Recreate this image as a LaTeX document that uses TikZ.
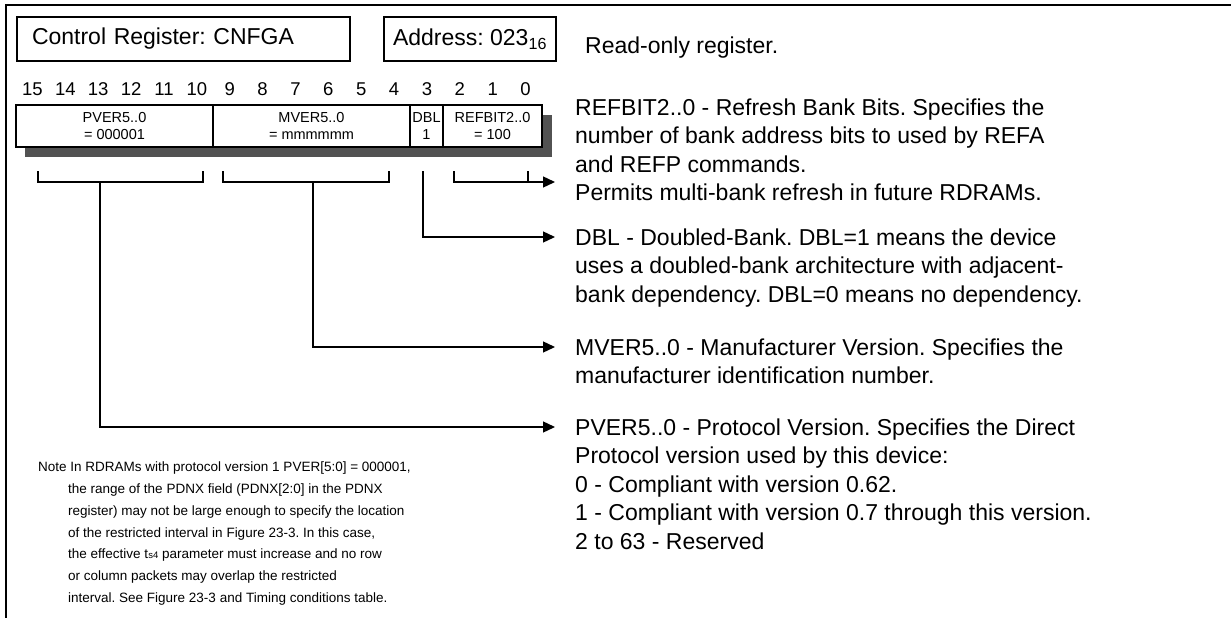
\documentclass[tikz,border=0pt]{standalone}
\usepackage{fontspec}
\setmainfont{Liberation Sans}
\frenchspacing
\usetikzlibrary{positioning,arrows.meta}
\tikzset{
  ttl/.style={rectangle, draw=black, line width=1.3pt, minimum height=44pt, inner ysep=0pt, outer sep=0pt, font=\fontsize{23}{27}\selectfont},
  fld/.style={rectangle, draw=black, line width=1.1pt, minimum height=42pt, inner sep=0pt, outer sep=0pt, fill=white, align=center, font=\fontsize{14.5}{17}\selectfont},
  bitno/.style={font=\fontsize{18.5}{18.5}\selectfont, inner sep=0pt},
  desc/.style={anchor=north west, align=left, inner sep=0pt, font=\fontsize{23}{28.5}\selectfont},
  brk/.style={line width=1.3pt},
  arr/.style={line width=1.3pt, -{Triangle[length=12pt,width=11pt]}},
  shd/.style={fill=black!68}
}
\begin{document}
\begin{tikzpicture}[x=1pt,y=-1pt]
	\useasboundingbox (0,0) rectangle (1231,618);
	\draw[line width=2pt] (6,618) -- (6,5) -- (1231,5);
	\node[ttl, inner xsep=15pt, text width=303pt, align=left] (ctl) at (183.5,39) {Control Register: CNFGA};
	\node[ttl, minimum width=172pt, right=34pt of ctl] (adr) {Address: 023\textsubscript{16}};
	\node[anchor=west, inner sep=0pt, font=\fontsize{23}{27}\selectfont] (ro) at (585,48) {Read-only register.};
	\foreach \b in {0,...,15}
		\node[bitno] (b\b) at ({542-(\b+0.5)*32.875},89) {\b};
	\fill[shd] (25,115) rectangle (552,157);
	\node[fld, minimum width=197pt] (pver) at (114.5,126) {PVER5..0\\= 000001};
	\node[fld, minimum width=197pt, right=0pt of pver] (mver) {MVER5..0\\= mmmmmm};
	\node[fld, minimum width=33pt, right=0pt of mver] (dbl) {DBL\\1};
	\node[fld, minimum width=99pt, right=0pt of dbl] (refbit) {REFBIT2..0\\= 100};
	\coordinate (pl) at (38,171);
	\coordinate (pr) at (203,171);
	\coordinate (ps) at (100,182);
	\coordinate (ml) at (223,171);
	\coordinate (mr) at (389,171);
	\coordinate (ms) at (313,182);
	\coordinate (ds) at (423,171);
	\coordinate (rl) at (454,171);
	\coordinate (rr) at (528,171);
	\coordinate (rt) at (555,182);
	\draw[brk] (pl) -- (pl |- ps) -- (pr |- ps) -- (pr);
	\draw[brk] (ml) -- (ml |- ms) -- (mr |- ms) -- (mr);
	\draw[brk] (rr) -- (rr |- rt);
	\draw[arr] (rl) -- (rl |- rt) -- (rt);
	\node[desc] (refd) at (575,98.2) {REFBIT2..0 - Refresh Bank Bits. Specifies the\\number of bank address bits to used by REFA\\and REFP commands.\\Permits multi-bank refresh in future RDRAMs.};
	\node[desc] (dbld) at (575,228.2) {DBL - Doubled-Bank. DBL=1 means the device\\uses a doubled-bank architecture with adjacent-\\bank dependency. DBL=0 means no dependency.};
	\node[desc] (mverd) at (575,338.2) {MVER5..0 - Manufacturer Version. Specifies the\\manufacturer identification number.};
	\node[desc] (pverd) at (575,418.2) {PVER5..0 - Protocol Version. Specifies the Direct\\Protocol version used by this device:\\0 - Compliant with version 0.62.\\1 - Compliant with version 0.7 through this version.\\2 to 63 - Reserved};
	\draw[arr, shorten >=20pt] (ds) |- ([yshift=-8.8pt]dbld.north west);
	\draw[arr, shorten >=20pt] (ms) |- ([yshift=-8.8pt]mverd.north west);
	\draw[arr, shorten >=20pt] (ps) |- ([yshift=-8.8pt]pverd.north west);
	\node[anchor=north west, align=left, inner sep=0pt, font=\fontsize{13.5}{21.7}\selectfont] (note) at (38,462) {Note In RDRAMs with protocol version 1 PVER[5:0] = 000001,\\\hspace*{30pt}the range of the PDNX field (PDNX[2:0] in the PDNX\\\hspace*{30pt}register) may not be large enough to specify the location\\\hspace*{30pt}of the restricted interval in Figure 23-3. In this case,\\\hspace*{30pt}the effective t{\fontsize{9.5}{10}\selectfont s4} parameter must increase and no row\\\hspace*{30pt}or column packets may overlap the restricted\\\hspace*{30pt}interval. See Figure 23-3 and Timing conditions table.};
\end{tikzpicture}
\end{document}
